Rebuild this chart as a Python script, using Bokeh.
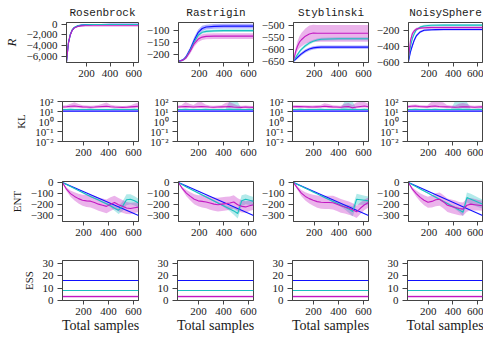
from bokeh.plotting import figure
from bokeh.layouts import column, row
from bokeh.models import Range1d, FixedTicker, CustomJSTickFormatter
from bokeh.embed import file_html
from bokeh.resources import INLINE

# ---------------- data ----------------
PROBLEMS = ["Rosenbrock", "Rastrigin", "Styblinski", "NoisySphere"]
METRICS = ["R", "KL", "ENT", "ESS"]
X_TICKS = [200, 400, 600]

X_R = [32, 48, 64, 80, 96, 128, 160, 192, 224, 256, 320, 400, 480, 560, 640]
X_S = [32, 64, 96, 128, 160, 192, 224, 256, 288, 320, 352, 384, 416, 448, 480, 512, 544, 576, 608, 640]
X_ENDS = [32, 640]

# Row 1: reward R
ROS_BLUE = [-7000, -3600, -2000, -1150, -700, -320, -180, -120, -90, -75, -60, -55, -50, -50, -50]
ROS_CYAN = [-6900, -3400, -1850, -1050, -620, -280, -160, -110, -90, -80, -75, -70, -70, -70, -70]
ROS_MAG = [-6950, -3500, -1950, -1150, -720, -420, -330, -305, -300, -300, -300, -300, -300, -300, -300]
ROS_BLUE_SD = [150, 300, 250, 180, 120, 60, 40, 30, 25, 20, 20, 20, 20, 20, 20]
ROS_CYAN_SD = [150, 300, 250, 180, 120, 60, 40, 30, 25, 20, 20, 20, 20, 20, 20]
ROS_MAG_SD = [150, 300, 250, 180, 120, 80, 60, 50, 50, 50, 50, 50, 50, 50, 50]

RAS_BLUE = [-228, -227, -224, -218, -208, -178, -140, -108, -92, -86, -83, -82, -82, -82, -82]
RAS_CYAN = [-228, -227, -225, -219, -210, -182, -147, -120, -108, -104, -102, -101, -101, -101, -101]
RAS_MAG = [-228, -227, -225, -220, -212, -186, -155, -136, -128, -125, -124, -124, -124, -124, -124]
RAS_BLUE_SD = [3, 3, 4, 5, 7, 10, 12, 12, 11, 10, 10, 10, 10, 10, 10]
RAS_CYAN_SD = [3, 3, 4, 5, 6, 8, 8, 7, 6, 6, 6, 6, 6, 6, 6]
RAS_MAG_SD = [3, 3, 4, 5, 7, 10, 12, 12, 12, 12, 12, 12, 12, 12, 12]

STY_BLUE = [-648, -640, -632, -624, -617, -605, -597, -592, -590, -589, -589, -589, -589, -589, -589]
STY_CYAN = [-648, -634, -620, -608, -598, -583, -572, -564, -559, -556, -555, -554, -554, -554, -554]
STY_MAG = [-648, -610, -585, -568, -558, -543, -534, -530, -531, -531, -531, -531, -531, -531, -531]
STY_BLUE_SD = [3, 5, 6, 7, 7, 7, 7, 7, 7, 7, 7, 7, 7, 7, 7]
STY_CYAN_SD = [3, 5, 6, 7, 7, 7, 7, 6, 6, 6, 6, 6, 6, 6, 6]
STY_MAG_SD = [5, 15, 20, 25, 28, 32, 35, 35, 35, 35, 35, 35, 35, 35, 35]

NOI_BLUE = [-590, -470, -390, -320, -270, -220, -200, -195, -192, -191, -190, -190, -190, -190, -190]
NOI_CYAN = [-560, -400, -300, -240, -195, -160, -145, -140, -137, -136, -135, -135, -135, -135, -135]
NOI_MAG = [-545, -330, -240, -205, -185, -172, -168, -166, -165, -165, -165, -165, -165, -165, -165]
NOI_BLUE_SD = [15, 25, 25, 22, 18, 14, 12, 12, 12, 12, 12, 12, 12, 12, 12]
NOI_CYAN_SD = [15, 25, 25, 20, 16, 14, 14, 14, 14, 14, 14, 14, 14, 14, 14]
NOI_MAG_SD = [15, 30, 25, 20, 18, 16, 15, 15, 15, 15, 15, 15, 15, 15, 15]

# Row 2: KL (log scale)
KL_BLUE = [11, 11]
KL_BLUE_LO = [10, 10]
KL_BLUE_HI = [12.3, 12.3]
KL_CYAN = [16, 16, 17, 16, 16, 16, 16, 17, 16, 16, 16, 16, 16, 17, 16, 16, 16, 16, 17, 16]
KL_CYAN_LO = [14, 14, 14, 14, 14, 14, 14, 14, 14, 14, 14, 14, 14, 14, 14, 14, 14, 14, 14, 14]
KL1_CYAN_HI = [19, 19, 19, 19, 19, 19, 19, 19, 19, 19, 19, 19, 19, 19, 19, 19, 19, 19, 19, 19]
KL2_CYAN_HI = [19, 19, 19, 19, 19, 19, 19, 19, 19, 19, 19, 19, 19, 100, 100, 100, 19, 19, 19, 19]
KL3_CYAN_HI = [19, 19, 19, 19, 19, 19, 19, 19, 19, 19, 19, 19, 19, 100, 100, 100, 19, 19, 19, 19]
KL4_CYAN_HI = [19, 19, 19, 19, 19, 19, 19, 19, 19, 19, 19, 19, 100, 100, 100, 100, 19, 19, 19, 19]

KL1_MAG = [28, 30, 33, 35, 32, 29, 28, 27, 28, 30, 32, 34, 30, 28, 27, 26, 27, 29, 31, 33]
KL1_MAG_LO = [21, 22, 23, 24, 23, 21, 21, 20, 21, 22, 23, 24, 22, 21, 20, 20, 20, 21, 22, 23]
KL1_MAG_HI = [40, 42, 60, 85, 55, 42, 40, 38, 40, 45, 60, 80, 48, 40, 38, 36, 38, 42, 60, 80]
KL2_MAG = [28, 30, 32, 30, 28, 30, 32, 30, 28, 27, 28, 29, 30, 32, 28, 27, 26, 28, 27, 26]
KL2_MAG_LO = [21, 22, 23, 22, 21, 22, 23, 22, 21, 20, 21, 21, 22, 23, 21, 20, 20, 21, 20, 20]
KL2_MAG_HI = [40, 45, 90, 60, 45, 85, 90, 50, 40, 38, 40, 42, 70, 90, 60, 40, 38, 40, 38, 36]
KL3_MAG = [30, 32, 31, 30, 29, 28, 29, 30, 33, 31, 29, 28, 27, 30, 32, 24, 28, 32, 35, 30]
KL3_MAG_LO = [22, 23, 23, 22, 21, 21, 21, 22, 24, 23, 21, 21, 20, 22, 23, 18, 21, 23, 25, 22]
KL3_MAG_HI = [42, 44, 43, 42, 40, 40, 42, 45, 65, 55, 42, 40, 38, 60, 70, 45, 80, 95, 90, 60]
KL4_MAG = [30, 33, 35, 32, 30, 29, 33, 35, 32, 30, 29, 28, 27, 28, 30, 29, 28, 27, 28, 29]
KL4_MAG_LO = [22, 24, 25, 23, 22, 21, 23, 25, 23, 22, 21, 21, 20, 21, 22, 21, 21, 20, 21, 21]
KL4_MAG_HI = [42, 48, 50, 45, 42, 40, 90, 95, 95, 85, 45, 40, 38, 60, 70, 60, 40, 38, 40, 40]

# Row 3: ENT
ENT_BLUE = [0, -298]
ENT_CYAN_SD = [2, 3, 4, 5, 5, 6, 6, 7, 7, 8, 8, 10, 14, 22, 35, 45, 50, 45, 42, 40]
ENT_MAG_SD = [3, 15, 28, 38, 45, 50, 55, 58, 60, 60, 62, 62, 62, 60, 60, 58, 55, 52, 48, 45]
ENT1_CYAN = [0, -18, -36, -54, -72, -90, -108, -125, -142, -158, -175, -192, -210, -232, -250, -215, -155, -150, -165, -185]
ENT1_MAG = [0, -60, -100, -125, -145, -160, -165, -168, -180, -195, -205, -215, -195, -180, -200, -215, -230, -235, -228, -222]
ENT2_CYAN = [0, -20, -40, -58, -76, -94, -112, -130, -148, -166, -184, -202, -220, -238, -256, -280, -165, -150, -160, -170]
ENT2_MAG = [0, -55, -95, -125, -150, -165, -170, -175, -185, -195, -200, -195, -190, -185, -175, -200, -215, -220, -210, -200]
ENT3_CYAN = [0, -17, -34, -51, -68, -85, -102, -119, -136, -153, -170, -187, -204, -221, -238, -262, -150, -155, -160, -165]
ENT3_MAG = [0, -50, -95, -125, -145, -160, -172, -178, -180, -180, -182, -195, -210, -220, -230, -245, -265, -230, -200, -180]
ENT4_CYAN = [0, -19, -38, -57, -76, -95, -114, -133, -152, -171, -190, -209, -228, -247, -268, -135, -150, -165, -180, -194]
ENT4_MAG = [0, -60, -100, -134, -160, -178, -170, -155, -150, -175, -205, -215, -225, -235, -240, -205, -195, -200, -205, -210]

# Row 4: ESS
ESS_BLUE = [16, 16]
ESS_CYAN = [8, 8]
ESS_MAG = [3.2, 3.2]
ESS_MAG_LO = [2.3, 2.3]
ESS_MAG_HI = [4.0, 4.0]

# y ranges / ticks per panel
R_RANGES = [(-7100, 300), (-234, -67), (-653, -486), (-603, -102)]
R_TICKS = [[-6000, -4000, -2000, 0], [-200, -150, -100], [-650, -600, -550, -500], [-600, -400, -200]]
KL_RANGE = (0.01, 100)
KL_TICKS = [0.01, 0.1, 1, 10, 100]
ENT_RANGE = (-352, 10)
ENT_TICKS = [-300, -200, -100, 0]
ESS_RANGE = (0, 32)
ESS_TICKS = [0, 10, 20, 30]

# ---------------- style ----------------
BLUE = "#0f0fff"
CYAN = "#19c0c0"
MAG = "#c219c2"
FRAME = "#444444"
TXT = "#1a1a1a"
SERIF = "Liberation Serif"
MONO = "Liberation Mono"
BAND_ALPHA = 0.33
LW = 1.1

COL_W = [143, 115, 115, 110]
COL_L = [62, 34, 34, 34]
COL_R = [5, 5, 5, 1]
ROW_H = [84, 79, 80, 94]
ROW_T = [22, 17, 18, 17]
ROW_B = [22, 22, 22, 37]

LIN_FMT = CustomJSTickFormatter(code=r"""
const a = Math.abs(tick);
let s = String(Math.round(a));
if (a >= 1000) { s = s.replace(/\B(?=(\d{3})+(?!\d))/g, ','); }
return (tick < 0 ? '\u2212' : '') + s;
""")

LOG_FMT = CustomJSTickFormatter(code=r"""
const e = Math.round(Math.log10(tick));
const m = {'-2': '\u207b\u00b2', '-1': '\u207b\u00b9', '0': '\u2070', '1': '\u00b9', '2': '\u00b2'};
return '10' + m[String(e)];
""")


def make_fig(r, c, yr, yticks, log=False):
    kw = dict(width=COL_W[c], height=ROW_H[r],
              min_border_left=COL_L[c], min_border_right=COL_R[c],
              min_border_top=ROW_T[r], min_border_bottom=ROW_B[r],
              output_backend="svg", toolbar_location=None,
              x_range=Range1d(32, 640), y_range=Range1d(*yr))
    if log:
        kw["y_axis_type"] = "log"
    if r == 0:
        kw["title"] = PROBLEMS[c]
    else:
        kw["title"] = None
    p = figure(**kw)
    p.background_fill_color = "white"
    p.border_fill_color = "white"
    p.outline_line_color = FRAME
    p.outline_line_width = 1
    p.xgrid.visible = False
    p.ygrid.visible = False
    if r == 0:
        p.title.text_font = MONO
        p.title.text_font_size = "11px"
        p.title.text_font_style = "normal"
        p.title.text_color = TXT
        p.title.align = "center"
        p.title.standoff = 8

    p.xaxis.ticker = FixedTicker(ticks=X_TICKS)
    p.yaxis.ticker = FixedTicker(ticks=yticks)
    p.yaxis.formatter = LOG_FMT if log else LIN_FMT
    for ax in (p.xaxis[0], p.yaxis[0]):
        ax.axis_line_color = FRAME
        ax.major_tick_line_color = FRAME
        ax.major_tick_in = 0
        ax.minor_tick_in = 0
        ax.minor_tick_out = 0
        ax.minor_tick_line_color = None
        ax.major_label_text_font = SERIF
        ax.major_label_text_font_size = "11px"
        ax.major_label_text_color = TXT
    p.xaxis.major_tick_out = 4
    p.xaxis.major_label_standoff = 3
    p.yaxis.major_tick_out = 5
    p.yaxis.major_label_standoff = 4

    if c == 0:
        p.yaxis.axis_label = METRICS[r]
        p.yaxis.axis_label_text_font = SERIF
        p.yaxis.axis_label_text_color = TXT
        p.yaxis.axis_label_standoff = 5
        if r == 0:
            p.yaxis.axis_label_text_font_style = "italic"
            p.yaxis.axis_label_text_font_size = "13px"
        else:
            p.yaxis.axis_label_text_font_style = "normal"
            p.yaxis.axis_label_text_font_size = "11px"
    if r == 3:
        p.xaxis.axis_label = "Total samples"
        p.xaxis.axis_label_text_font = SERIF
        p.xaxis.axis_label_text_font_style = "normal"
        p.xaxis.axis_label_text_font_size = "14px"
        p.xaxis.axis_label_text_color = TXT
        p.xaxis.axis_label_standoff = 0
    return p


def band(p, x, lo, hi, color):
    p.varea(x=x, y1=lo, y2=hi, fill_color=color, fill_alpha=BAND_ALPHA)


def line(p, x, y, color):
    p.line(x, y, line_color=color, line_width=LW)


def sd_band(p, x, m, s, color):
    lo = [a - b for a, b in zip(m, s)]
    hi = [a + b for a, b in zip(m, s)]
    band(p, x, lo, hi, color)


R_DATA = [
    (ROS_BLUE, ROS_BLUE_SD, ROS_CYAN, ROS_CYAN_SD, ROS_MAG, ROS_MAG_SD),
    (RAS_BLUE, RAS_BLUE_SD, RAS_CYAN, RAS_CYAN_SD, RAS_MAG, RAS_MAG_SD),
    (STY_BLUE, STY_BLUE_SD, STY_CYAN, STY_CYAN_SD, STY_MAG, STY_MAG_SD),
    (NOI_BLUE, NOI_BLUE_SD, NOI_CYAN, NOI_CYAN_SD, NOI_MAG, NOI_MAG_SD),
]
KL_CYAN_HIS = [KL1_CYAN_HI, KL2_CYAN_HI, KL3_CYAN_HI, KL4_CYAN_HI]
KL_MAGS = [(KL1_MAG, KL1_MAG_LO, KL1_MAG_HI), (KL2_MAG, KL2_MAG_LO, KL2_MAG_HI),
           (KL3_MAG, KL3_MAG_LO, KL3_MAG_HI), (KL4_MAG, KL4_MAG_LO, KL4_MAG_HI)]
ENT_DATA = [(ENT1_CYAN, ENT1_MAG), (ENT2_CYAN, ENT2_MAG), (ENT3_CYAN, ENT3_MAG), (ENT4_CYAN, ENT4_MAG)]

rows = []
# Row 1
figs = []
for c in range(4):
    p = make_fig(0, c, R_RANGES[c], R_TICKS[c])
    b, bs, cy, cs, m, ms = R_DATA[c]
    sd_band(p, X_R, b, bs, BLUE)
    sd_band(p, X_R, cy, cs, CYAN)
    sd_band(p, X_R, m, ms, MAG)
    line(p, X_R, b, BLUE)
    line(p, X_R, cy, CYAN)
    line(p, X_R, m, MAG)
    figs.append(p)
rows.append(row(*figs))

# Row 2
figs = []
for c in range(4):
    p = make_fig(1, c, KL_RANGE, KL_TICKS, log=True)
    m, mlo, mhi = KL_MAGS[c]
    band(p, X_ENDS, KL_BLUE_LO, KL_BLUE_HI, BLUE)
    band(p, X_S, KL_CYAN_LO, KL_CYAN_HIS[c], CYAN)
    band(p, X_S, mlo, mhi, MAG)
    line(p, X_ENDS, KL_BLUE, BLUE)
    line(p, X_S, KL_CYAN, CYAN)
    line(p, X_S, m, MAG)
    figs.append(p)
rows.append(row(*figs))

# Row 3
figs = []
for c in range(4):
    p = make_fig(2, c, ENT_RANGE, ENT_TICKS)
    cy, m = ENT_DATA[c]
    sd_band(p, X_S, cy, ENT_CYAN_SD, CYAN)
    sd_band(p, X_S, m, ENT_MAG_SD, MAG)
    line(p, X_ENDS, ENT_BLUE, BLUE)
    line(p, X_S, cy, CYAN)
    line(p, X_S, m, MAG)
    figs.append(p)
rows.append(row(*figs))

# Row 4
figs = []
for c in range(4):
    p = make_fig(3, c, ESS_RANGE, ESS_TICKS)
    band(p, X_ENDS, ESS_MAG_LO, ESS_MAG_HI, MAG)
    line(p, X_ENDS, ESS_BLUE, BLUE)
    line(p, X_ENDS, ESS_CYAN, CYAN)
    line(p, X_ENDS, ESS_MAG, MAG)
    figs.append(p)
rows.append(row(*figs))

layout = column(*rows)
open("out.html", "w", encoding="utf-8").write(file_html(layout, INLINE))
